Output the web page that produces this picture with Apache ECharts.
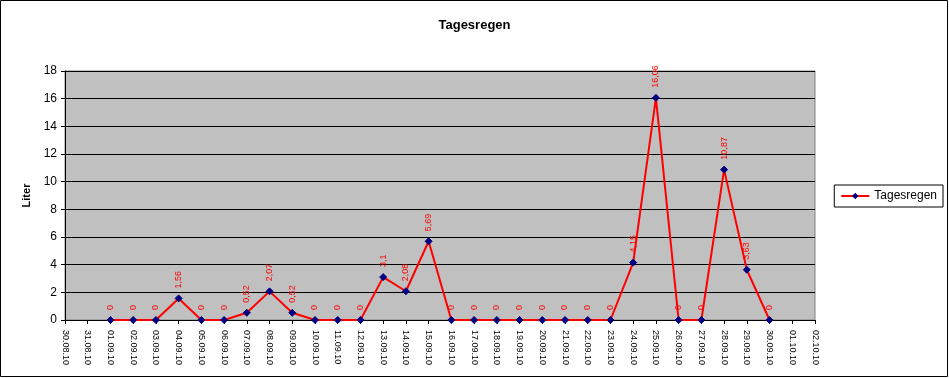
<!DOCTYPE html>
<html>
<head>
<meta charset="utf-8">
<script src="https://cdn.jsdelivr.net/npm/echarts@6/dist/echarts.min.js"></script>
<style>
  html, body { margin: 0; padding: 0; background: #fff; }
  #chart { width: 949px; height: 378px; }
</style>
</head>
<body>
<div id="chart"></div>
<script>
// Tagesregen September 2010
const days = ['30.08.10', '31.08.10', '01.09.10', '02.09.10', '03.09.10', '04.09.10', '05.09.10',
  '06.09.10', '07.09.10', '08.09.10', '09.09.10', '10.09.10', '11.09.10', '12.09.10', '13.09.10',
  '14.09.10', '15.09.10', '16.09.10', '17.09.10', '18.09.10', '19.09.10', '20.09.10', '21.09.10',
  '22.09.10', '23.09.10', '24.09.10', '25.09.10', '26.09.10', '27.09.10', '28.09.10', '29.09.10',
  '30.09.10', '01.10.10', '02.10.10']
const rain = [null, null, 0, 0, 0, 1.56, 0, 0, 0.52, 2.07, 0.52, 0, 0, 0, 3.1, 2.08, 5.69,
  0, 0, 0, 0, 0, 0, 0, 0, 4.15, 16.06, 0, 0, 10.87, 3.63, 0, null, null]

const font = 'Liberation Sans, Arial, sans-serif'
const myChart = echarts.init(document.getElementById('chart'))

const option = {
  animation: false,
  graphic: [{
    type: 'rect',
    shape: { x: 0.5, y: 0.5, width: 947, height: 376 },
    style: { fill: 'none', stroke: '#000', lineWidth: 1 },
    silent: true
  }],
  title: {
    text: 'Tagesregen',
    left: 'center',
    top: 14,
    textStyle: { fontFamily: font, fontSize: 13, fontWeight: 'bold', color: '#000' }
  },
  legend: {
    data: ['Tagesregen'],
    right: 6,
    top: 185,
    orient: 'vertical',
    padding: [5, 6, 5, 6],
    borderColor: '#000',
    borderWidth: 1,
    borderRadius: 0,
    itemWidth: 28,
    itemHeight: 8,
    itemGap: 4,
    textStyle: { fontFamily: font, fontSize: 12, color: '#000' }
  },
  grid: {
    left: 65,
    right: 134,
    top: 71,
    bottom: 58,
    show: true,
    backgroundColor: '#c0c0c0',
    borderColor: '#808080',
    borderWidth: 1
  },
  xAxis: {
    type: 'category',
    data: days,
    boundaryGap: false,
    axisLine: { lineStyle: { color: '#000', width: 1 } },
    axisTick: { show: true, length: 4, inside: false, lineStyle: { color: '#000' } },
    axisLabel: {
      interval: 0,
      rotate: -90,
      fontFamily: font,
      fontSize: 9,
      color: '#000',
      margin: 10
    }
  },
  yAxis: {
    type: 'value',
    name: 'Liter',
    nameLocation: 'middle',
    nameGap: 30,
    nameRotate: 90,
    nameTextStyle: { fontFamily: font, fontSize: 11, fontWeight: 'bold', color: '#000' },
    min: 0,
    max: 18,
    interval: 2,
    axisLine: { show: true, lineStyle: { color: '#000' } },
    axisTick: { show: true, length: 4, lineStyle: { color: '#000' } },
    axisLabel: { fontFamily: font, fontSize: 12, color: '#000', margin: 8 },
    splitLine: { show: true, lineStyle: { color: '#000', width: 1 } }
  },
  series: [{
    name: 'Tagesregen',
    type: 'line',
    data: rain,
    symbol: 'diamond',
    symbolSize: 7,
    itemStyle: { color: '#000080', borderColor: '#000080' },
    lineStyle: { color: '#ff0000', width: 2 },
    label: {
      show: true,
      position: 'top',
      rotate: 90,
      align: 'left',
      verticalAlign: 'middle',
      distance: 6,
      fontFamily: font,
      fontSize: 9,
      color: '#ff0000',
      formatter: p => String(p.value).replace('.', ',')
    }
  }]
}

myChart.setOption(option)
window.addEventListener('resize', () => myChart.resize(), false)
</script>
</body>
</html>
